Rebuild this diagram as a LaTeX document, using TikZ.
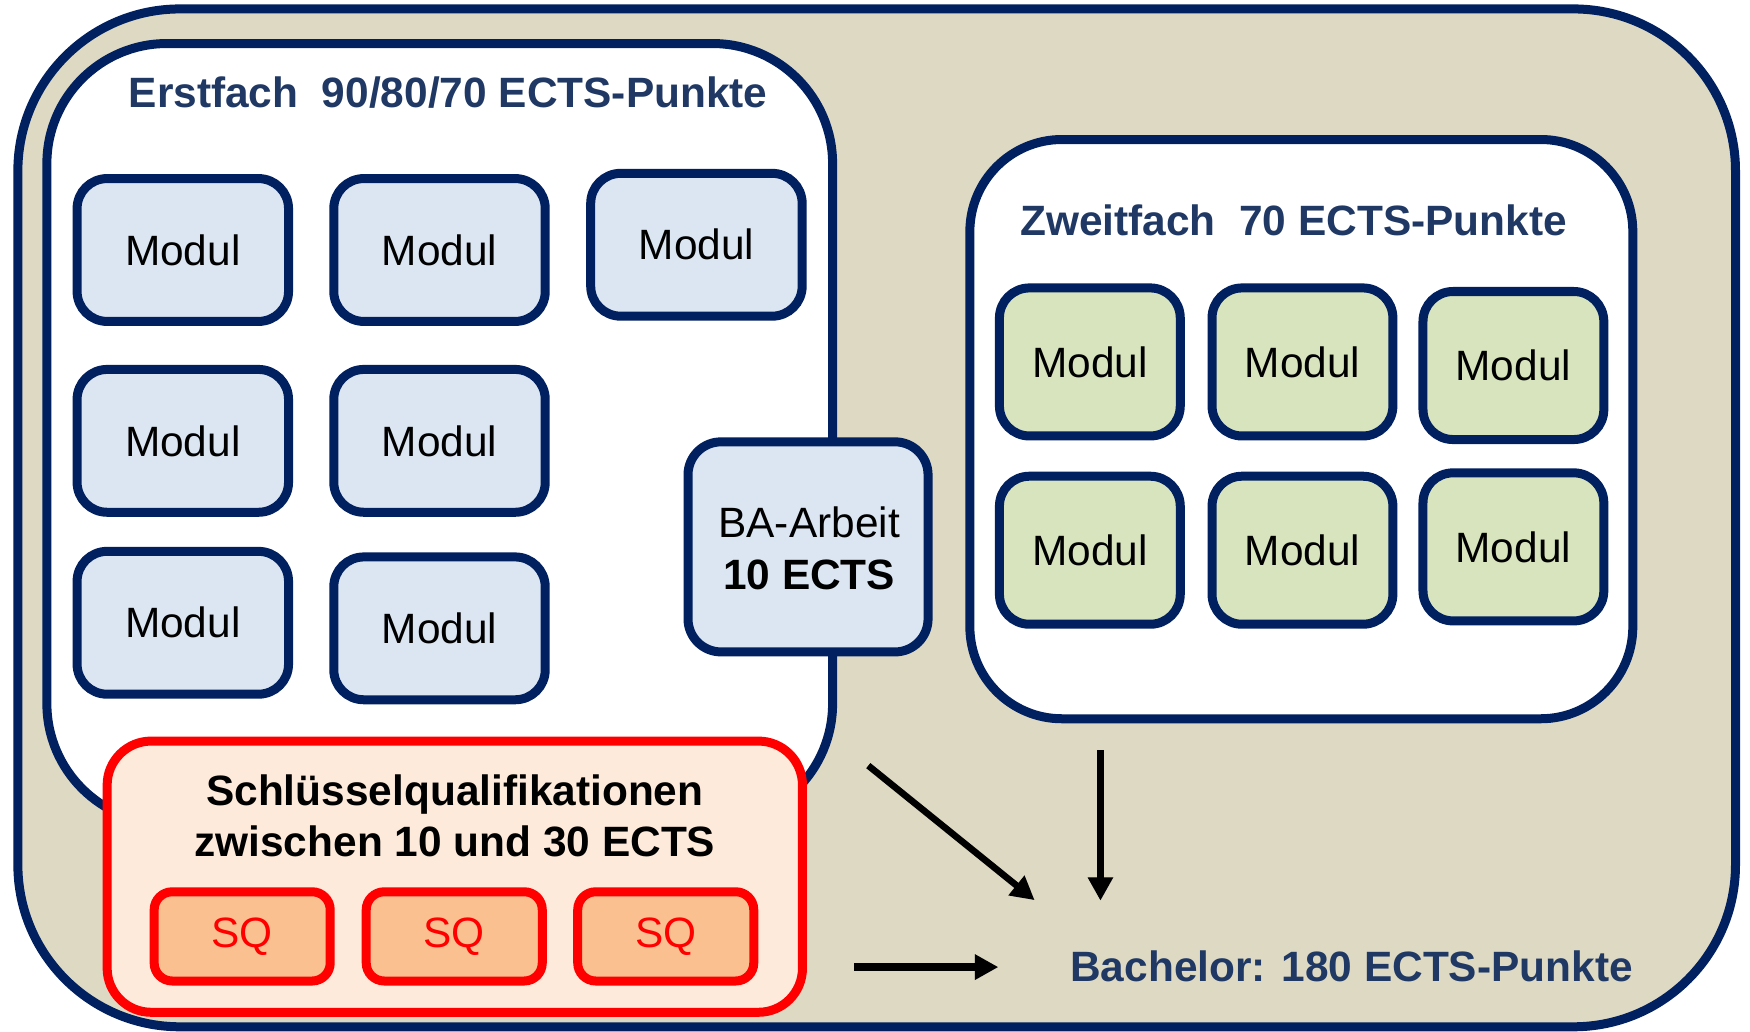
\documentclass[tikz,border=0pt]{standalone}
\usepackage{fontspec}
\setmainfont{Liberation Sans}
\usetikzlibrary{arrows.meta}
\definecolor{navy}{RGB}{0,32,96}
\definecolor{titlec}{RGB}{31,56,100}
\definecolor{beige}{RGB}{221,217,195}
\definecolor{bluef}{RGB}{220,230,242}
\definecolor{greenf}{RGB}{215,228,189}
\definecolor{sqbig}{RGB}{253,234,218}
\definecolor{sqsmall}{RGB}{250,192,144}
\definecolor{redc}{RGB}{255,0,0}
\tikzset{
  txt/.style={font=\fontsize{21.2pt}{25.1pt}\selectfont, inner sep=0pt},
  btxt/.style={font=\fontsize{21.2pt}{25.1pt}\selectfont\bfseries, inner sep=0pt},
  bluemod/.style={draw=navy, line width=4.5pt, fill=bluef, rounded corners=15pt,
    minimum width=105.7pt, minimum height=71.4pt, inner sep=0pt, txt},
  greenmod/.style={draw=navy, line width=4.5pt, fill=greenf, rounded corners=15pt,
    minimum width=90.4pt, minimum height=74pt, inner sep=0pt, txt},
  sqmod/.style={draw=redc, line width=4.5pt, fill=sqsmall, rounded corners=9pt,
    minimum width=88pt, minimum height=44.6pt, inner sep=0pt, txt, text=redc},
  bigbox/.style={draw=navy, line width=4.5pt},
  titletxt/.style={btxt, text=titlec},
  arr/.style={line width=3.5pt, -{Triangle[length=11.7pt,width=12pt]}},
  arrshadow/.style={draw=black!45, opacity=0.35, shift={(2.5,2.5)}},
}
\begin{document}
\begin{tikzpicture}[x=0.5579pt,y=-0.5579pt]
\useasboundingbox (0,0) rectangle (1568,924);
% outer frame
\draw[bigbox, fill=beige, rounded corners=81pt] (16,8) rectangle (1555,920);
% Erstfach
\draw[bigbox, fill=white, rounded corners=60pt] (42,39) rectangle (746,738);
\node[titletxt] (t1) at (401.5,83) {Erstfach~~90/80/70 ECTS-Punkte};
\node[bluemod] (m1) at (163.8,224) {Modul};
\node[bluemod] (m2) at (393.8,224) {Modul};
\node[bluemod] (m3) at (624,219.3) {Modul};
\node[bluemod] (m4) at (163.8,395) {Modul};
\node[bluemod] (m5) at (393.8,395) {Modul};
\node[bluemod] (m6) at (163.8,558) {Modul};
\node[bluemod] (m7) at (393.8,563) {Modul};
% BA-Arbeit
\node[draw=navy, line width=4.5pt, fill=bluef, rounded corners=16.5pt,
  minimum width=120pt, minimum height=105pt, inner sep=0pt] (ba) at (724,490) {};
\node[txt] (ba1) at (725,468) {BA-Arbeit};
\node[btxt] (ba2) at (725,515) {10 ECTS};
% Zweitfach
\draw[bigbox, fill=white, rounded corners=46pt] (869,125) rectangle (1463,644);
\node[titletxt] (t2) at (1159,197) {Zweitfach~~70 ECTS-Punkte};
\node[greenmod] (g1) at (976.5,324.3) {Modul};
\node[greenmod] (g2) at (1167,324.3) {Modul};
\node[greenmod] (g3) at (1356,327.5) {Modul};
\node[greenmod] (g4) at (976.5,493) {Modul};
\node[greenmod] (g5) at (1167,493) {Modul};
\node[greenmod] (g6) at (1356,490) {Modul};
% Schluesselqualifikationen
\draw[draw=redc, line width=4.5pt, fill=sqbig, rounded corners=22pt] (96,664) rectangle (719,907);
\node[btxt, anchor=base] (sqt1) at (407.5,722) {Schlüsselqualifikationen};
\node[btxt, anchor=base] (sqt2) at (407.5,767) {zwischen 10 und 30 ECTS};
\node[sqmod] (s1) at (217,839) {SQ};
\node[sqmod] (s2) at (407,839) {SQ};
\node[sqmod] (s3) at (596.5,839) {SQ};
% Bachelor
\node[titletxt] (bach) at (1211,866) {Bachelor: 180 ECTS-Punkte};
% arrows
\coordinate (a1s) at (778,686);
\coordinate (a1e) at (927,806.5);
\coordinate (a2s) at (986,672);
\coordinate (a2e) at (986,807);
\coordinate (a3s) at (765.5,866.5);
\coordinate (a3e) at (894.5,866.5);
\draw[arr, arrshadow, line width=3.3pt] (a1s) -- (a1e);
\draw[arr, arrshadow] (a2s) -- (a2e);
\draw[arr, arrshadow, line width=4.2pt] (a3s) -- (a3e);
\draw[arr, line width=3.3pt] (a1s) -- (a1e);
\draw[arr] (a2s) -- (a2e);
\draw[arr, line width=4.2pt] (a3s) -- (a3e);
\end{tikzpicture}
\end{document}
